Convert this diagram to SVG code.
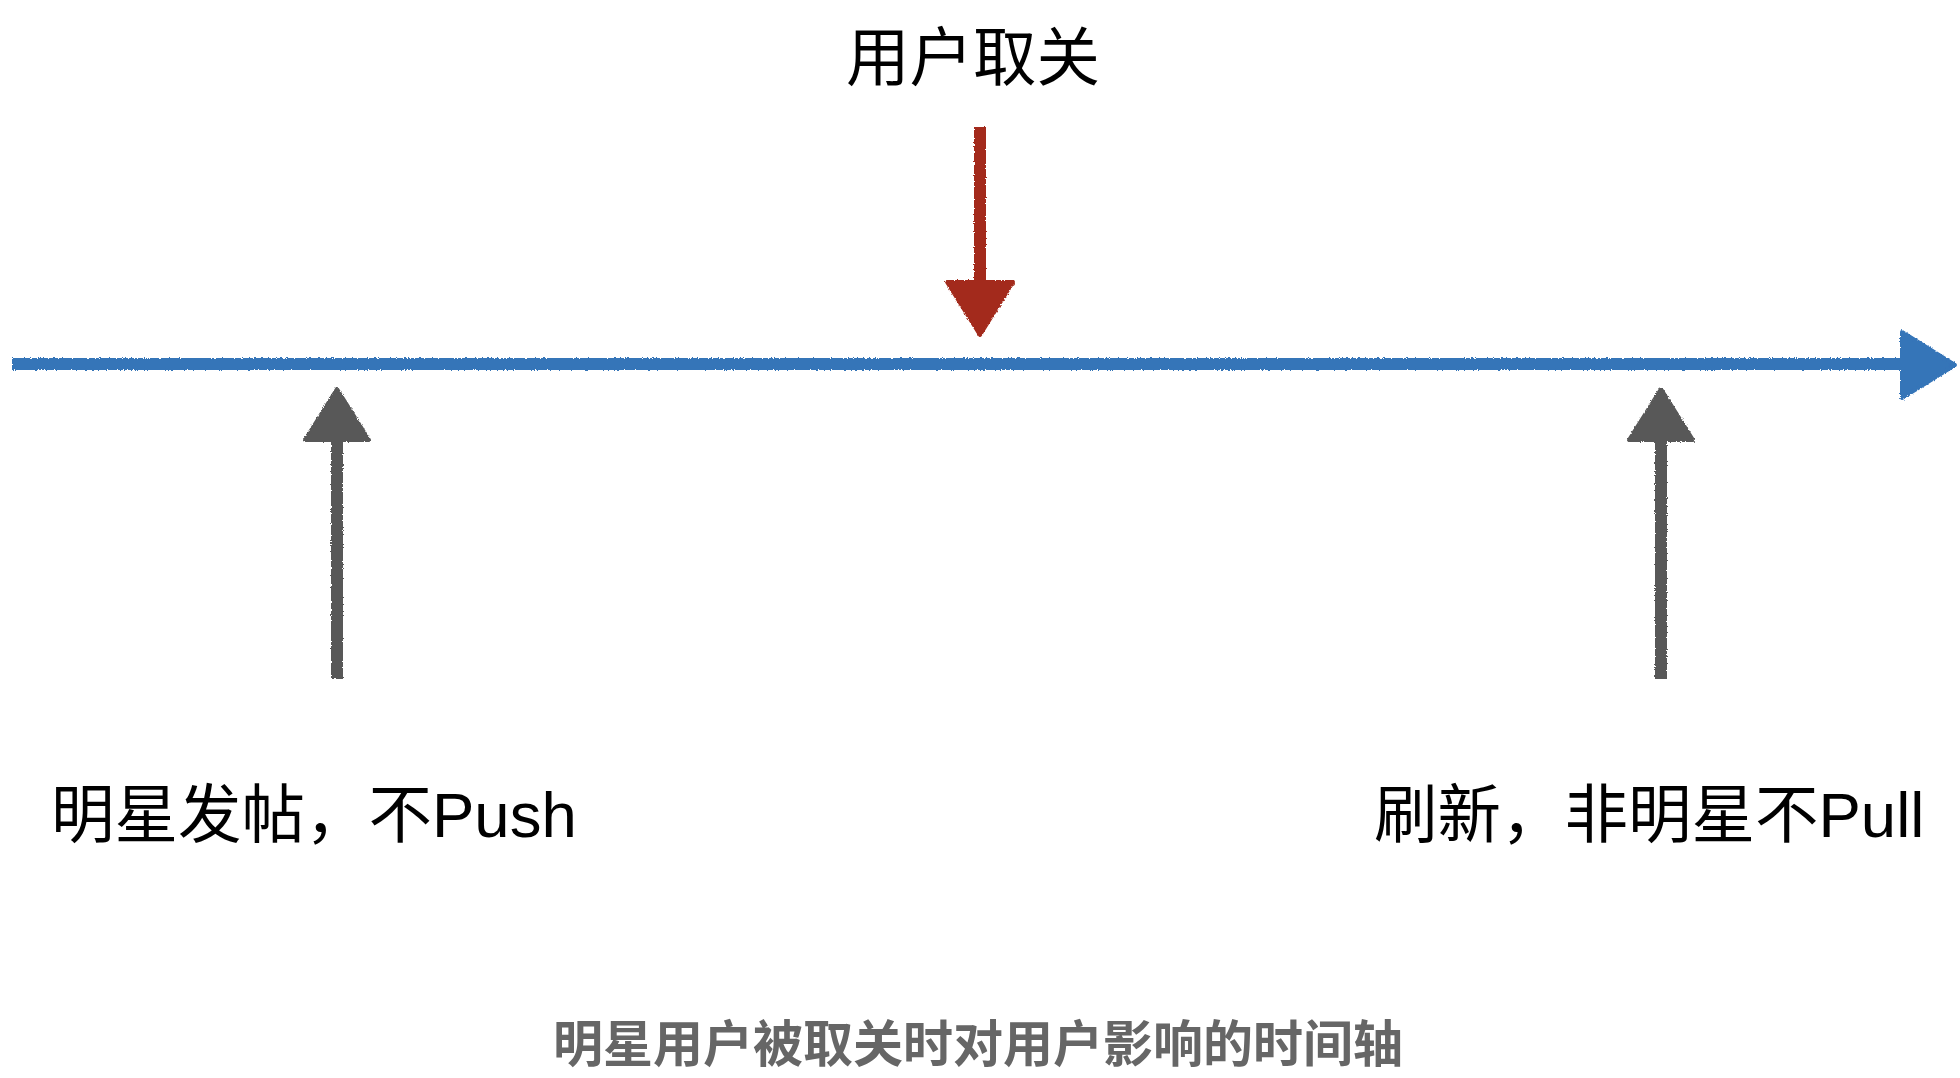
<svg xmlns="http://www.w3.org/2000/svg" width="1960" height="1078" viewBox="0 0 1960 1078">
  <defs>
    <filter id="rough" x="-5%" y="-5%" width="110%" height="110%">
      <feTurbulence type="fractalNoise" baseFrequency="0.7" numOctaves="2" seed="3" result="n"/>
      <feDisplacementMap in="SourceGraphic" in2="n" scale="3" xChannelSelector="R" yChannelSelector="G"/>
    </filter>
  </defs>
  <style>
    .lbl { font-family: "Liberation Sans", "Noto Sans CJK SC", sans-serif; font-size: 63.5px; fill: #000000; }
    .cap { font-family: "Noto Sans CJK SC", "Liberation Sans", sans-serif; font-size: 50px; font-weight: bold; fill: #666666; }
    .blue { stroke: #3574b8; fill: #3574b8; }
    .red { stroke: #a32b1b; fill: #a32b1b; }
    .gray { stroke: #595959; fill: #595959; }
    .shaft { stroke-width: 12; stroke-linecap: butt; fill: none; }
    .head { stroke-width: 4; stroke-linejoin: round; }
  </style>
  <rect width="1960" height="1078" fill="#ffffff"/>
  <g id="connectors" filter="url(#rough)">
    <g id="timeline">
      <line class="blue shaft" x1="12" y1="364" x2="1905" y2="364"/>
      <polygon class="blue head" points="1902,332 1955,365 1902,398"/>
    </g>
    <g id="arrow-unfollow">
      <line class="red shaft" x1="980" y1="127" x2="980" y2="285"/>
      <polygon class="red head" points="947,282 1013,282 980,335"/>
    </g>
    <g id="arrow-post">
      <line class="gray shaft" x1="337" y1="440" x2="337" y2="679"/>
      <polygon class="gray head" points="305,440 369,440 337,389"/>
    </g>
    <g id="arrow-refresh">
      <line class="gray shaft" x1="1661" y1="440" x2="1661" y2="679"/>
      <polygon class="gray head" points="1629,440 1693,440 1661,389"/>
    </g>
  </g>
  <g id="node-unfollow">
    <text class="lbl" x="973" y="80" text-anchor="middle">用户取关</text>
  </g>
  <g id="node-post">
    <text class="lbl" x="51" y="837">明星发帖，不Push</text>
  </g>
  <g id="node-refresh">
    <text class="lbl" x="1374" y="837">刷新，非明星不Pull</text>
  </g>
  <g id="caption">
    <text class="cap" x="978" y="1062" text-anchor="middle">明星用户被取关时对用户影响的时间轴</text>
  </g>
</svg>
